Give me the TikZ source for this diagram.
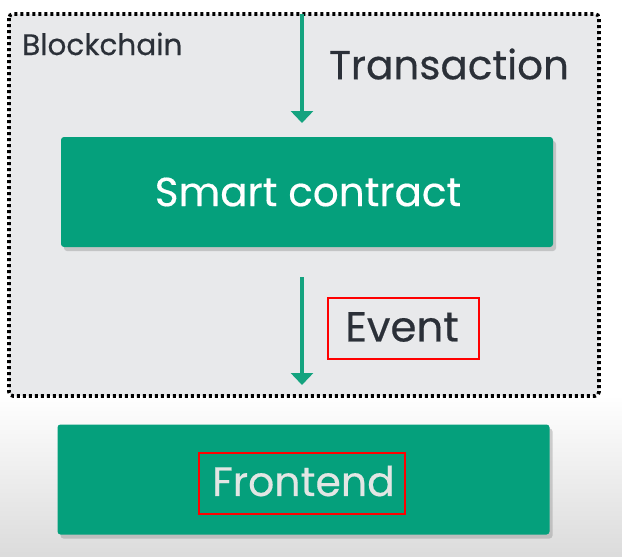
\documentclass[tikz,border=0pt]{standalone}
\usepackage{fontspec}
\setmainfont{Poppins}[FakeBold=0.4]
\usetikzlibrary{shadows,arrows.meta}
\definecolor{bggray}{HTML}{E8E9EB}
\definecolor{gbox}{HTML}{05A07C}
\definecolor{garrow}{HTML}{14A37F}
\definecolor{txt}{HTML}{2B3038}
\definecolor{ftxt}{HTML}{E2E6E4}
\tikzset{
  gbox/.style={draw=none, fill=gbox, rounded corners=3pt, minimum width=492pt, minimum height=110pt,
    drop shadow={shadow xshift=3pt, shadow yshift=-4pt, opacity=0.35}},
  flow/.style={draw=garrow, line width=4pt, -{Triangle[width=22pt,length=12pt]}},
  lbl/.style={text=txt, inner sep=0pt},
  hl/.style={draw=red, line width=2pt}
}
\begin{document}
\begin{tikzpicture}[x=1pt,y=-1pt]
\useasboundingbox (0,0) rectangle (622,557);
\shade[top color=white, bottom color=black!14] (0,395) rectangle (622,557);
\fill[white] (0,0) rectangle (622,395);
\draw[fill=bggray, draw=black, line width=3.6pt, dash pattern=on 3pt off 3pt, rounded corners=4pt] (9,14) rectangle (599,396);
\node[lbl, anchor=base west, font=\fontsize{29.5}{34}\selectfont] (bc) at (22,55) {Blockchain};
\node[gbox] (sc) at (307,192) {};
\node[text=white, font=\fontsize{40.5}{46}\selectfont] (sct) at (308,192) {Smart contract};
\node[gbox] (fe) at (303.5,479.5) {};
\node[text=ftxt, font=\fontsize{41}{46}\selectfont, inner sep=0pt] (fet) at (303.5,481) {Frontend};
\node[hl, minimum width=206pt, minimum height=61pt] (feb) at (302,483.5) {};
\node[lbl, font=\fontsize{40.5}{46}\selectfont] (tr) at (449,64) {Transaction};
\node[lbl, font=\fontsize{42}{46}\selectfont] (ev) at (402,327) {Event};
\node[hl, minimum width=151pt, minimum height=61pt] (evb) at (403.5,328.5) {};
\coordinate (a1) at (302,14);
\coordinate (a1e) at (302,123);
\coordinate (a2) at (302,277);
\coordinate (a2e) at (302,385);
\draw[flow] (a1) -- (a1e);
\draw[flow] (a2) -- (a2e);
\end{tikzpicture}
\end{document}
